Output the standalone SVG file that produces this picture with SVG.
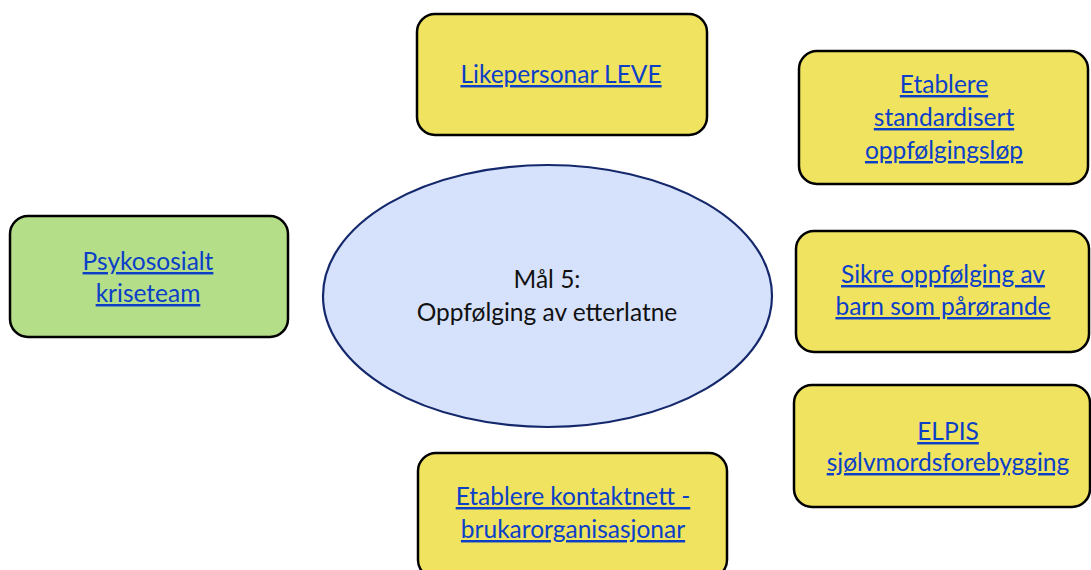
<svg xmlns="http://www.w3.org/2000/svg" width="1091" height="570" viewBox="0 0 1091 570">
<style>
.box{stroke:#000;stroke-width:2.5}
.y{fill:#EFE360}
.g{fill:#B5DE88}
.lnk{font-family:Lato,"Liberation Sans",sans-serif;font-size:24.5px;fill:#0B3FC8;text-decoration:underline;text-anchor:middle}
.ctr{font-family:Lato,"Liberation Sans",sans-serif;font-size:24.5px;fill:#111;text-anchor:middle}
</style>
<rect width="1091" height="570" fill="#fff"/>
<g id="connectors"/>
<g id="center">
<ellipse cx="547.5" cy="296" rx="224.5" ry="131" fill="#D6E2FC" stroke="#14286B" stroke-width="2.2"/>
<text class="ctr" x="547" y="288">Mål 5:</text>
<text class="ctr" x="547" y="321">Oppfølging av etterlatne</text>
</g>
<g id="psykososialt">
<rect class="box g" x="10" y="216" width="278" height="121" rx="18"/>
<text class="lnk" x="148" y="270">Psykososialt</text>
<text class="lnk" x="148" y="302">kriseteam</text>
</g>
<g id="likepersonar">
<rect class="box y" x="417" y="14" width="290" height="121" rx="18"/>
<text class="lnk" x="561" y="83">Likepersonar LEVE</text>
</g>
<g id="standardisert">
<rect class="box y" x="799" y="51" width="289" height="133" rx="18"/>
<text class="lnk" x="944" y="93">Etablere</text>
<text class="lnk" x="944" y="126">standardisert</text>
<text class="lnk" x="944" y="159">oppfølgingsløp</text>
</g>
<g id="sikre">
<rect class="box y" x="796" y="231" width="293" height="121" rx="18"/>
<text class="lnk" x="943" y="283">Sikre oppfølging av</text>
<text class="lnk" x="943" y="315">barn som pårørande</text>
</g>
<g id="elpis">
<rect class="box y" x="794" y="385" width="296" height="122" rx="18"/>
<text class="lnk" x="948" y="440">ELPIS</text>
<text class="lnk" x="948" y="471">sjølvmordsforebygging</text>
</g>
<g id="kontaktnett">
<rect class="box y" x="418" y="453" width="309" height="125" rx="18"/>
<text class="lnk" x="573" y="505">Etablere kontaktnett -</text>
<text class="lnk" x="573" y="538">brukarorganisasjonar</text>
</g>
</svg>
